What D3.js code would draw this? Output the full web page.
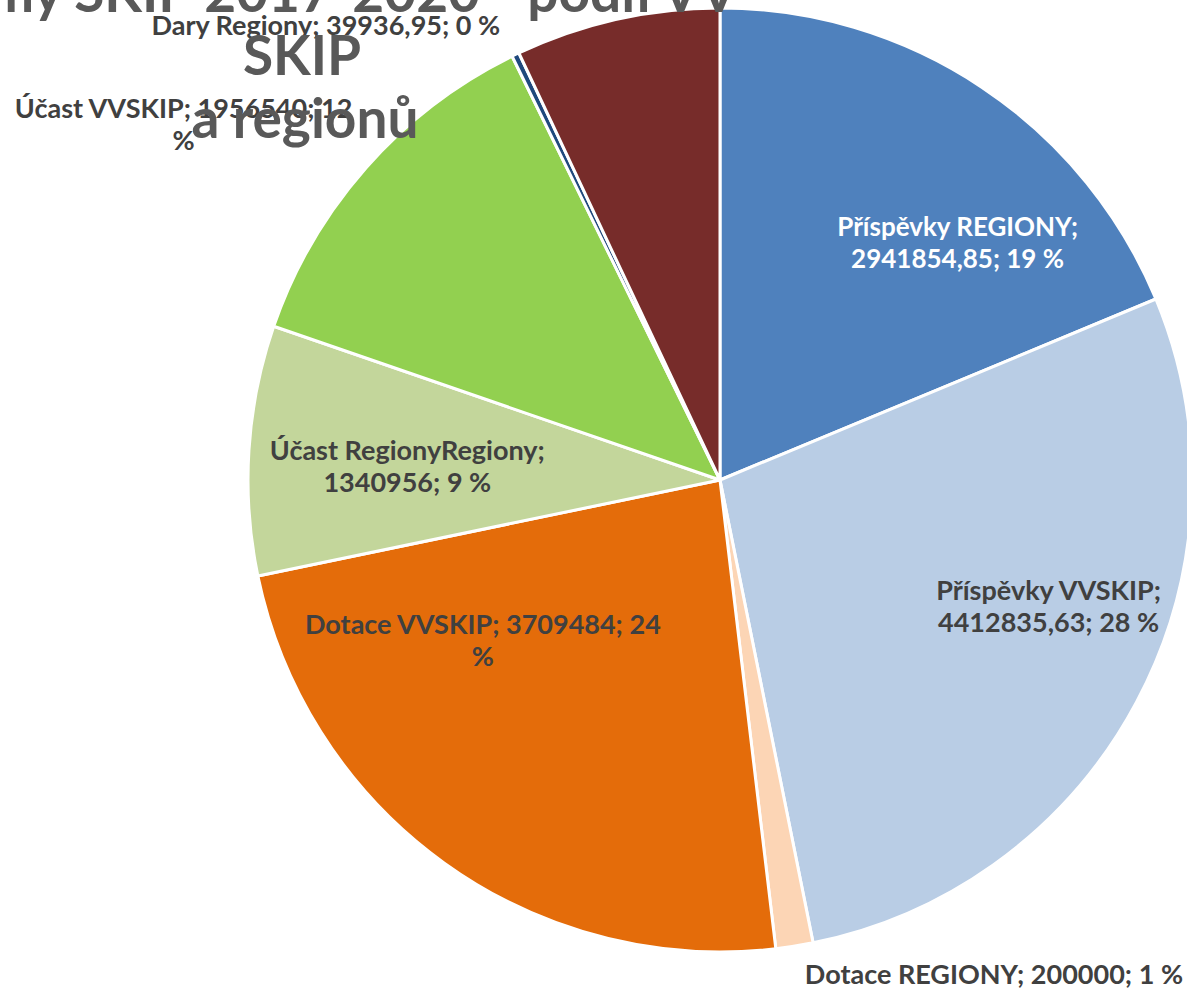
<!DOCTYPE html>
<html>
<head>
<meta charset="utf-8">
<script src="https://cdn.jsdelivr.net/npm/d3@7"></script>
<style>
  body { margin: 0; background: #fff; }
  svg { display: block; }
  text { font-family: Lato, "Open Sans", sans-serif; font-weight: bold; }
</style>
</head>
<body>
<svg id="chart" width="1187" height="993"></svg>
<script>
// data
var categories = ["Příspěvky REGIONY", "Příspěvky VVSKIP", "Dotace REGIONY", "Dotace VVSKIP",
                  "Účast RegionyRegiony", "Účast VVSKIP", "Dary Regiony", "Dary VVSKIP"];
var values = [2941854.85, 4412835.63, 200000, 3709484, 1340956, 1956540, 39936.95, 1100000];
var colors = ["#4F81BD", "#B9CDE5", "#FCD5B5", "#E46C0A", "#C3D69B", "#92D050", "#1F497D", "#772C2A"];
var titleLines = ["Příjmy SKIP 2017-2020 - podíl VV", "SKIP", "a regionů"];

// label placement (angle in degrees clockwise from top, distance from centre), wrap mode
var labelLayout = [
  {a: 45,    r: 336, wrap: "semi", fill: "#fff", size: 26},
  {a: 111,   r: 352, wrap: "semi"},
  {a: 151,   r: 565, wrap: "none"},
  {a: 236,   r: 286, wrap: "pct"},
  {a: 272.6, r: 313, wrap: "semi"},
  {a: 303.6, r: 644, wrap: "pct"},
  {a: 319.1, r: 602, wrap: "none"},
  null
];

var cx = 720, cy = 480, radius = 472;

var svg = d3.select("#chart");
var chart = svg.append("g").attr("transform", "translate(" + cx + "," + cy + ")");

var total = d3.sum(values);
var table = categories.map(function(c, i) { return {name: c, value: values[i], i: i}; });

var pie = d3.pie().value(function(d) { return d.value; }).sort(null);
var arc = d3.arc().innerRadius(0).outerRadius(radius);

var color = d3.scaleOrdinal().domain(categories).range(colors);

//============ slices
chart.selectAll("path.slice")
     .data(pie(table))
     .enter().append("path")
     .attr("class", "slice")
     .attr("d", arc)
     .attr("fill", function(d) { return color(d.data.name); })
     .attr("stroke", "#fff")
     .attr("stroke-width", 3)
     .attr("stroke-linejoin", "round");

//============ data labels
var fmtNum = function(v) { return String(+v.toFixed(2)).replace(".", ","); };

function labelLines(d, mode) {
  var pct = Math.round(d.value / total * 100);
  if (mode == "semi") return [d.name + ";", fmtNum(d.value) + "; " + pct + " %"];
  if (mode == "pct") return [d.name + "; " + fmtNum(d.value) + "; " + pct, "%"];
  return [d.name + "; " + fmtNum(d.value) + "; " + pct + " %"];
}

var lineH = 32;
table.forEach(function(d, i) {
  var L = labelLayout[i];
  if (!L) return;
  var p = d3.pointRadial(L.a * Math.PI / 180, L.r);
  var lines = labelLines(d, L.wrap);
  var t = chart.append("text")
     .attr("text-anchor", "middle")
     .attr("font-size", L.size || 27)
     .attr("fill", L.fill || "#404040");
  lines.forEach(function(s, k) {
    t.append("tspan")
     .attr("x", p[0])
     .attr("y", p[1] + (k - (lines.length - 1) / 2) * lineH + 10)
     .text(s);
  });
});

//============ title
var title = svg.append("g").attr("fill", "#595959").attr("font-size", 55);
title.append("text").attr("x", 738).attr("y", 12).attr("text-anchor", "end").text(titleLines[0]);
title.append("text").attr("x", 302).attr("y", 75).attr("text-anchor", "middle").text(titleLines[1]);
title.append("text").attr("x", 305).attr("y", 138).attr("text-anchor", "middle").text(titleLines[2]);
</script>
</body>
</html>
